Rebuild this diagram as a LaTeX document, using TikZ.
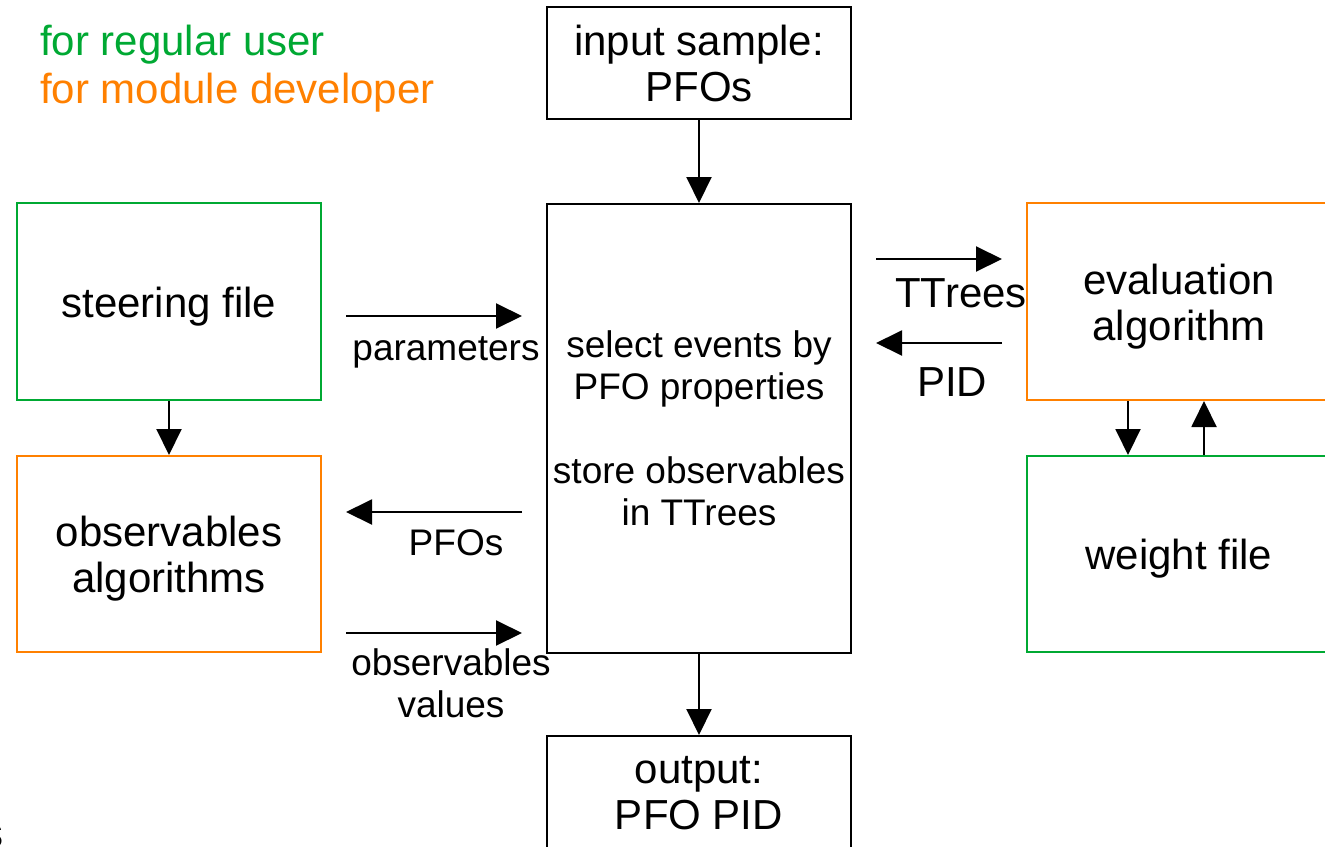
\documentclass[tikz,border=0pt]{standalone}
\usepackage{fontspec}
\setmainfont{Liberation Sans}
\usetikzlibrary{arrows.meta}
\definecolor{usergreen}{RGB}{0,169,51}
\definecolor{devorange}{RGB}{255,128,0}
\newcommand\bigtext{\fontsize{42}{46}\selectfont}
\newcommand\smalltext{\fontsize{37}{42}\selectfont}
% taller first line, pushes the text of a box slightly down
\newcommand\lowstrut{\rule{0pt}{40pt}}

\begin{document}
\begin{tikzpicture}[x=1pt,y=-1pt,
  box/.style={draw, line width=2pt, minimum width=304pt, inner sep=0pt,
    align=center, font=\bigtext},
  arr/.style={line width=2pt, -{Triangle[length=26pt,width=25pt]}},
  lbl/.style={inner sep=0pt, align=center, anchor=base, font=\smalltext},
  biglbl/.style={inner sep=0pt, align=center, anchor=base, font=\bigtext}]
  \useasboundingbox (0,0) rectangle (1325,846);

  % legend
  \node[inner sep=0pt, anchor=base west, font=\bigtext, text=usergreen]
    (leguser) at (40,55) {for regular user};
  \node[inner sep=0pt, anchor=base west, font=\bigtext, text=devorange]
    (legdev) at (40,103) {for module developer};

  % central column
  \node[box, minimum height=112pt] (input) at (699,63) {input sample:\\PFOs};
  \node[box, minimum height=449pt, font=\smalltext] (main) at (699,428.5)
    {select events by\\PFO properties\\[42pt]store observables\\in TTrees};
  \node[box, minimum height=114pt] (output) at (699,793) {output:\\PFO PID};

  % left column
  \node[box, draw=usergreen, minimum height=197pt] (steer) at (169,301.5)
    {\lowstrut steering file};
  \node[box, draw=devorange, minimum height=196pt] (obsalg) at (169,554)
    {\lowstrut observables\\algorithms};

  % right column
  \node[box, draw=devorange, minimum height=197pt] (eval) at (1179,301.5)
    {\lowstrut evaluation\\algorithm};
  \node[box, draw=usergreen, minimum height=196pt] (weight) at (1179,554)
    {\lowstrut weight file};

  % vertical connections
  \draw[arr] (input) -- (main);
  \draw[arr] (main) -- (output);
  \draw[arr] (steer) -- (obsalg);
  \draw[arr] ([xshift=-51pt]eval.south) -- ([xshift=-51pt]weight.north);
  \draw[arr] ([xshift=25pt]weight.north) -- ([xshift=25pt]eval.south);

  % data flow between the left column and the selection step
  \coordinate (parA) at (346,316);
  \coordinate (parB) at (522,316);
  \coordinate (pfoA) at (522,512);
  \coordinate (pfoB) at (346,512);
  \coordinate (obsA) at (346,633);
  \coordinate (obsB) at (522,633);
  \draw[arr] (parA) -- (parB);
  \draw[arr] (pfoA) -- (pfoB);
  \draw[arr] (obsA) -- (obsB);
  \node[lbl] (parlbl) at (446,360) {parameters};
  \node[lbl] (pfolbl) at (456,555) {PFOs};
  \node[lbl] (obslbl) at (451,717) {observables\\values};

  % data flow between the selection step and the evaluation
  \coordinate (ttA) at (876,259);
  \coordinate (ttB) at (1002,259);
  \coordinate (pidA) at (1002,343);
  \coordinate (pidB) at (876,343);
  \draw[arr] (ttA) -- (ttB);
  \draw[arr] (pidA) -- (pidB);
  \node[biglbl] (ttlbl) at (961,307) {TTrees};
  \node[biglbl] (pidlbl) at (952,396) {PID};

  \node[inner sep=0pt, anchor=base east, font=\bigtext] (frag) at (4,847) {s};
\end{tikzpicture}
\end{document}
